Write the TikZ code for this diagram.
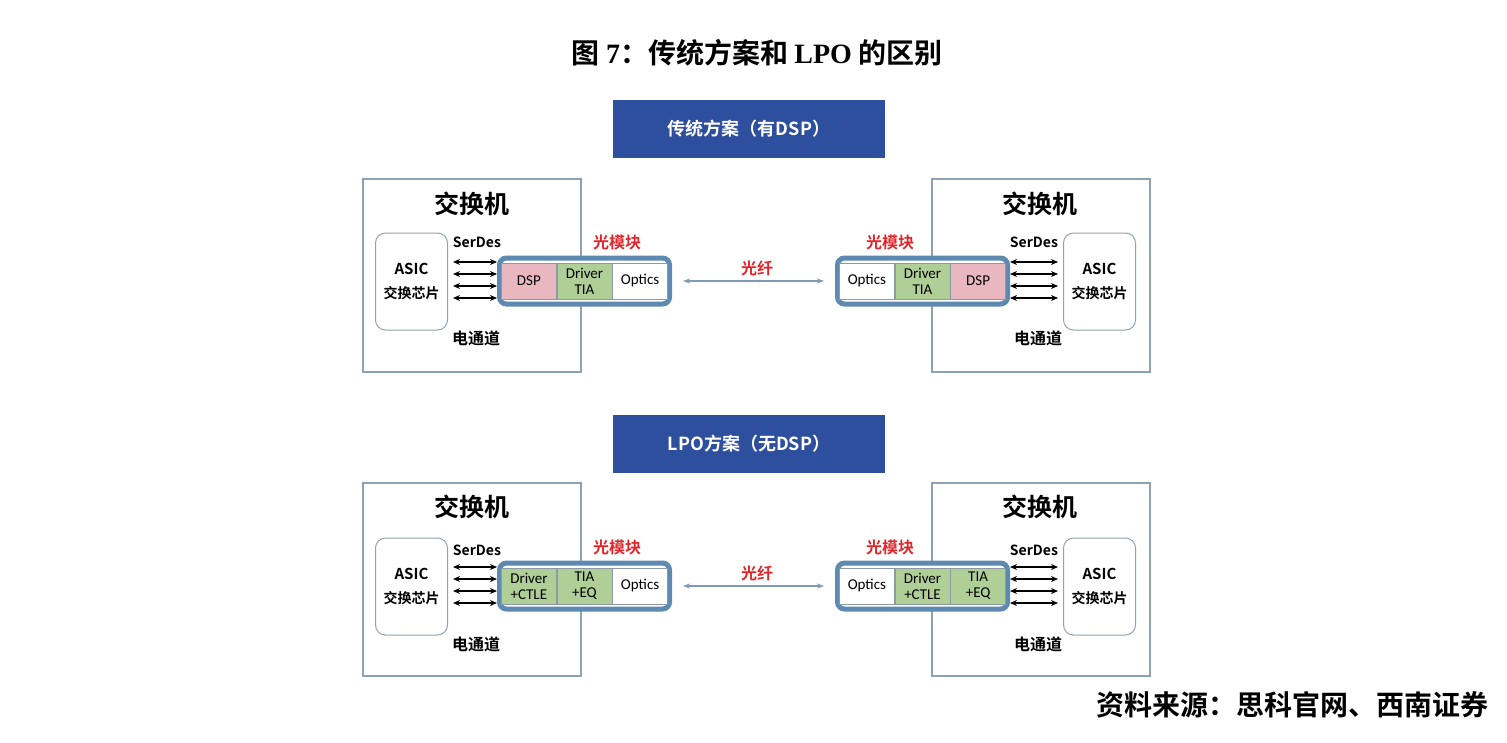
\documentclass[tikz,border=0pt]{standalone}
\usepackage{fontspec}
\setmainfont{Noto Sans CJK SC}[BoldFont={Noto Sans CJK SC Bold}]
\newfontfamily\cellfont{Carlito}
\newfontfamily\titleserif{Liberation Serif}
\usetikzlibrary{
  arrows.meta,
  positioning
}
\definecolor{navy}{HTML}{2E4E9E}
\definecolor{frame}{HTML}{8FA2B3}
\definecolor{steel}{HTML}{5E89B0}
\definecolor{pinkcell}{HTML}{E9B7BF}
\definecolor{greencell}{HTML}{AFCF96}
\definecolor{cellline}{HTML}{8C9AA5}
\definecolor{redtext}{HTML}{E0262B}
\definecolor{fiberline}{HTML}{7D9BB5}
\tikzset{
  banner/.style={
    fill=navy,
    minimum width=272pt,
    minimum height=58pt,
    text=white,
    font=\bfseries\fontsize{18}{20}\selectfont
  },
  swbox/.style={draw=frame, line width=1.3pt, minimum width=218pt, minimum height=193pt},
  asic/.style={
    draw=frame,
    line width=1pt,
    rounded corners=10pt,
    minimum width=72pt,
    minimum height=97pt,
    align=center,
    font=\bfseries\fontsize{15}{24}\selectfont
  },
  module/.style={
    draw=steel,
    line width=5pt,
    rounded corners=7pt,
    fill=white,
    minimum width=170pt,
    minimum height=46pt
  },
  cell/.style={
    draw=cellline,
    line width=0.6pt,
    minimum width=55pt,
    minimum height=36pt,
    inner sep=0pt,
    align=center,
    font=\cellfont\fontsize{15}{16}\selectfont
  },
  dsp/.style={cell, fill=pinkcell},
  drv/.style={cell, fill=greencell},
  opt/.style={cell, fill=white},
  swname/.style={font=\bfseries\fontsize{25}{28}\selectfont},
  tag/.style={font=\bfseries\fontsize{14}{16}\selectfont},
  chan/.style={font=\bfseries\fontsize{16}{18}\selectfont},
  redtag/.style={font=\bfseries\fontsize{16}{18}\selectfont, text=redtext},
  serdes/.style={{Stealth[length=7pt,width=6pt]}-{Stealth[length=7pt,width=6pt]}, line width=1.4pt},
  fiber/.style={
    {Stealth[length=7pt,width=5pt]}-{Stealth[length=7pt,width=5pt]},
    line width=1.1pt,
    draw=fiberline,
    shorten <=11pt,
    shorten >=11pt
  }
}

\begin{document}
\begin{tikzpicture}[x=1pt, y=-1pt]
  \useasboundingbox (0,0) rectangle (1507,742);
  \node[font=\bfseries\fontsize{28}{30}\selectfont] (title) at (757,53)
    {图 {\titleserif 7}：传统方案和 {\titleserif LPO} 的区别};

  % traditional scheme
  \node[banner] (bannerT) at (749,129) {传统方案（有DSP）};
  \node[swbox] (swTL) at (472,275.5) {};
  \node[swbox] (swTR) at (1041,275.5) {};
  \node[swname] (nameTL) at (472,204) {交换机};
  \node[swname] (nameTR) at (1040,204) {交换机};
  \node[asic] (asicTL) at (411.5,281.5) {ASIC\\{\fontsize{14}{14}\selectfont 交换芯片}};
  \node[asic] (asicTR) at (1099.5,281.5) {ASIC\\{\fontsize{14}{14}\selectfont 交换芯片}};
  \node[tag] (serTL) at (477,242) {SerDes};
  \node[tag] (serTR) at (1034,242) {SerDes};
  \node[chan] (chanTL) at (476,338) {电通道};
  \node[chan] (chanTR) at (1038,338) {电通道};

  \node[module] (modTL) at (584.5,281) {};
  \node[drv] (drvTL) at (modTL.center) {Driver\\TIA};
  \node[dsp, left=0pt of drvTL] (dspTL) {DSP};
  \node[opt, right=0pt of drvTL] (optTL) {Optics};
  \node[module] (modTR) at (922.5,281) {};
  \node[drv] (drvTR) at (modTR.center) {Driver\\TIA};
  \node[opt, left=0pt of drvTR] (optTR) {Optics};
  \node[dsp, right=0pt of drvTR] (dspTR) {DSP};
  \node[redtag] (omTL) at (617,242) {光模块};
  \node[redtag] (omTR) at (890,242) {光模块};
  \node[redtag] (fibT) at (757,268) {光纤};

  \foreach \y in {262,274,286,298} {
    \draw[serdes] ([xshift=5pt]asicTL.east |- 0,\y) -- (modTL.west |- 0,\y);
    \draw[serdes] (modTR.east |- 0,\y) -- ([xshift=-5pt]asicTR.west |- 0,\y);
  }
  \draw[fiber] (modTL) -- (modTR);

  % LPO scheme
  \node[banner] (bannerB) at (749,444) {LPO方案（无DSP）};
  \node[swbox] (swBL) at (472,579.5) {};
  \node[swbox] (swBR) at (1041,579.5) {};
  \node[swname] (nameBL) at (472,507) {交换机};
  \node[swname] (nameBR) at (1040,507) {交换机};
  \node[asic] (asicBL) at (411.5,586.5) {ASIC\\{\fontsize{14}{14}\selectfont 交换芯片}};
  \node[asic] (asicBR) at (1099.5,586.5) {ASIC\\{\fontsize{14}{14}\selectfont 交换芯片}};
  \node[tag] (serBL) at (477,550) {SerDes};
  \node[tag] (serBR) at (1034,550) {SerDes};
  \node[chan] (chanBL) at (476,644) {电通道};
  \node[chan] (chanBR) at (1038,644) {电通道};

  \node[module] (modBL) at (584.5,586) {};
  \node[drv] (tiaBL) at (modBL.center) {TIA\\+EQ};
  \node[drv, left=0pt of tiaBL] (drvBL) {Driver\\+CTLE};
  \node[opt, right=0pt of tiaBL] (optBL) {Optics};
  \node[module] (modBR) at (922.5,586) {};
  \node[drv] (drvBR) at (modBR.center) {Driver\\+CTLE};
  \node[opt, left=0pt of drvBR] (optBR) {Optics};
  \node[drv, right=0pt of drvBR] (tiaBR) {TIA\\+EQ};
  \node[redtag] (omBL) at (617,547) {光模块};
  \node[redtag] (omBR) at (890,547) {光模块};
  \node[redtag] (fibB) at (757,573) {光纤};

  \foreach \y in {567,579,591,603} {
    \draw[serdes] ([xshift=5pt]asicBL.east |- 0,\y) -- (modBL.west |- 0,\y);
    \draw[serdes] (modBR.east |- 0,\y) -- ([xshift=-5pt]asicBR.west |- 0,\y);
  }
  \draw[fiber] (modBL) -- (modBR);

  \node[anchor=east, font=\bfseries\fontsize{28}{30}\selectfont] (source) at (1492,705)
    {资料来源：思科官网、西南证券};
\end{tikzpicture}
\end{document}
